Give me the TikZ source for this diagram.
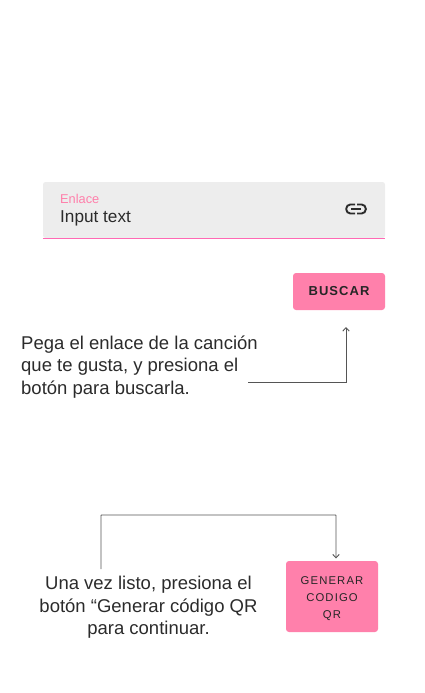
\documentclass[tikz,border=0pt]{standalone}
\usepackage{fontspec}
\setmainfont{Liberation Sans}
\usetikzlibrary{positioning,arrows.meta,calc}
\definecolor{rosa}{HTML}{FF80AB}
\definecolor{rosaline}{HTML}{FF69B4}
\definecolor{campo}{HTML}{EDEDED}
\definecolor{tinta}{HTML}{2B2B2B}
\tikzstyle{ptr}   = [draw=tinta!80, line width=0.9pt, -{Straight Barb[length=3.5pt,width=6.5pt]}]
\tikzstyle{field} = [rectangle, rounded corners=2.5pt, fill=campo, minimum width=342pt, minimum height=56pt, inner sep=0pt]
\tikzstyle{btn}   = [rectangle, rounded corners=3pt, fill=rosa, text=black!85, align=center, inner sep=0pt]
\tikzstyle{note}  = [text=tinta, inner sep=0pt, font=\fontsize{18.5}{22.5}\selectfont]

\begin{document}
\begin{tikzpicture}[x=1pt, y=-1pt]
    \useasboundingbox (0,0) rectangle (425,693);

    \node[field] (field) at (214,210) {};
    \draw[rosaline, line width=0.9pt] (field.south west) -- (field.south east);
    \node[anchor=west, inner sep=0pt, text=rosa, font=\fontsize{12.8}{14}\selectfont] (label) at (60,198.5) {Enlace};
    \node[anchor=west, inner sep=0pt, text=tinta, font=\fontsize{17.2}{20}\selectfont] (input) at (60,218.5) {Input text};

    % link icon
    \node[minimum width=21pt, minimum height=11pt, inner sep=0pt] (icon) at (356,209) {};
    \draw[tinta, line width=1.9pt, rounded corners=4.2pt] ($(icon.center)+(-1,-4.5)$) -- ($(icon.center)+(-9.8,-4.5)$) -- ($(icon.center)+(-9.8,4.5)$) -- ($(icon.center)+(-1,4.5)$);
    \draw[tinta, line width=1.9pt, rounded corners=4.2pt] ($(icon.center)+(1,-4.5)$) -- ($(icon.center)+(9.8,-4.5)$) -- ($(icon.center)+(9.8,4.5)$) -- ($(icon.center)+(1,4.5)$);
    \draw[tinta, line width=1.9pt] ($(icon.center)+(-5,0)$) -- ($(icon.center)+(5,0)$);

    \node[btn, minimum width=92pt, minimum height=37pt, font=\fontsize{13}{16}\selectfont\bfseries] (buscar) at (339,291.5) {\raisebox{-1pt}{\addfontfeature{LetterSpace=8}BUSCAR}};

    \node[note, anchor=north west, align=left] (pega) at (21,335.5) {Pega el enlace de la canción\\que te gusta, y presiona el\\botón para buscarla.};
    \coordinate (start1) at (248,382);
    \coordinate (end1) at (346,327);
    \draw[ptr] (start1) -| (end1);

    \node[note, anchor=north, align=center] (listo) at (148.5,576) {Una vez listo, presiona el\\botón “Generar código QR\\para continuar.};
    \node[btn, minimum width=92pt, minimum height=71pt, font=\fontsize{11.3}{17}\selectfont, text depth=0pt] (generar) at (332,596.5) {\raisebox{-1.5pt}{\addfontfeature{LetterSpace=10}GENERAR}\\\raisebox{-1.5pt}{\addfontfeature{LetterSpace=10}CODIGO}\\\raisebox{-1.5pt}{\addfontfeature{LetterSpace=10}QR}};
    \coordinate (start2) at (101,569);
    \coordinate (end2) at (336,558.5);
    \draw[ptr, rounded corners=0.5pt] (start2) -- (101,515) -- (336,515) -- (end2);

\end{tikzpicture}
\end{document}
